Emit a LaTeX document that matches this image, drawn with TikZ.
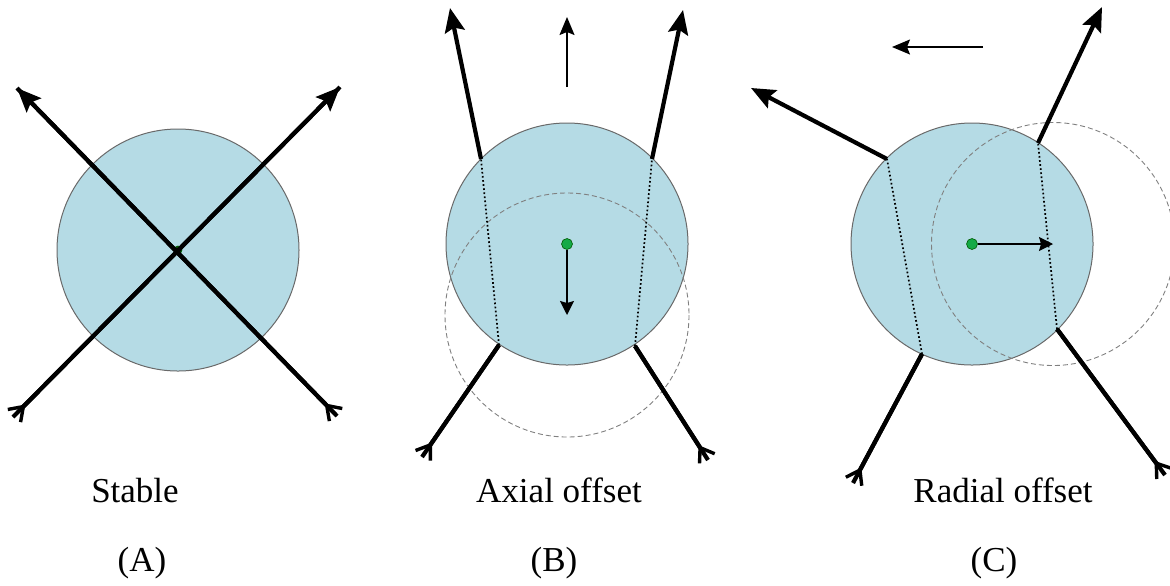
\documentclass[tikz,border=0pt]{standalone}
\usepackage{fontspec}
\setmainfont{Liberation Serif}
\usetikzlibrary{arrows.meta}

\definecolor{ballblue}{RGB}{181,219,229}
\definecolor{rimgray}{RGB}{105,105,105}
\definecolor{dotgreen}{RGB}{20,170,70}

\begin{document}
\begin{tikzpicture}[x=0.5pt,y=-0.5pt,
  fletch/.tip={Straight Barb[reversed,length=6.5pt,width=9pt,line width=1.7pt]},
  head/.tip={Stealth[length=12pt,width=10pt,inset=2pt]},
  ball/.style={draw=rimgray,fill=ballblue,line width=0.5pt},
  ghost/.style={draw=gray,line width=0.45pt,dash pattern=on 2.5pt off 1.5pt},
  ray/.style={line width=2.1pt,fletch-head,postaction={draw,arrows=-}},
  rayin/.style={line width=2.1pt,fletch-,postaction={draw,arrows=-}},
  rayout/.style={line width=2.1pt,-head},
  inside/.style={line width=0.85pt,dash pattern=on 0.85pt off 1.2pt},
  shiftarr/.style={line width=0.75pt,-{Stealth[length=7pt,width=7pt,inset=1pt]}},
  beam/.style={line width=0.75pt,-{Stealth[length=9pt,width=7.5pt,inset=1.5pt]}},
  centre/.style={circle,fill=dotgreen,draw=green!35!black,line width=0.3pt,inner sep=0pt,minimum size=5.5pt},
  caption/.style={font=\fontsize{17.5}{21}\selectfont,anchor=base}]
\useasboundingbox (0,0) rectangle (1170,585);

% (A) stable
\coordinate (cA) at (178,250);
\coordinate (aInL) at (13,417);  \coordinate (aOutR) at (340,87);
\coordinate (aInR) at (337,416); \coordinate (aOutL) at (17,88);
\draw[ball] (cA) circle (121);
\node[centre,fill=green!30!black,minimum size=4pt] (dotA) at (cA) {};
\draw[ray] (aInL)--(aOutR);
\draw[ray] (aInR)--(aOutL);

% (B) axial offset
\coordinate (cB) at (567,244); \coordinate (cBnew) at (567,315);
\coordinate (bInL) at (422,457); \coordinate (bLowL) at (499,345);
\coordinate (bUpL) at (481,159); \coordinate (bOutL) at (450,8);
\coordinate (bInR) at (708,460); \coordinate (bLowR) at (635,346);
\coordinate (bUpR) at (652,159); \coordinate (bOutR) at (683,10);
\coordinate (bBeamS) at (567,87); \coordinate (bBeamE) at (567,17);
\draw[ball] (cB) circle (121);
\draw[ghost] (cBnew) circle (122);
\draw[inside] (bLowL)--(bUpL); \draw[inside] (bLowR)--(bUpR);
\draw[rayin] (bInL)--(bLowL); \draw[rayout] (bUpL)--(bOutL);
\draw[rayin] (bInR)--(bLowR); \draw[rayout] (bUpR)--(bOutR);
\draw[beam] (bBeamS)--(bBeamE);
\node[centre] (dotB) at (cB) {};
\draw[shiftarr] (dotB)--(cBnew);

% (C) radial offset
\coordinate (cC) at (972,244); \coordinate (cCnew) at (1053,244);
\coordinate (cInL) at (853,483); \coordinate (cLowL) at (922,354);
\coordinate (cUpL) at (887,159); \coordinate (cOutL) at (751,88);
\coordinate (cInR) at (1165,475); \coordinate (cLowR) at (1057,329);
\coordinate (cUpR) at (1038,143); \coordinate (cOutR) at (1102,7);
\coordinate (cBeamS) at (983,47); \coordinate (cBeamE) at (892,47);
\draw[ball] (cC) circle (121);
\draw[ghost] (cCnew) circle (121.5);
\draw[inside] (cLowL)--(cUpL); \draw[inside] (cLowR)--(cUpR);
\draw[rayin] (cInL)--(cLowL); \draw[rayout] (cUpL)--(cOutL);
\draw[rayin] (cInR)--(cLowR); \draw[rayout] (cUpR)--(cOutR);
\draw[beam] (cBeamS)--(cBeamE);
\node[centre] (dotC) at (cC) {};
\draw[shiftarr] (dotC)--(cCnew);

% captions
\node[caption] (stable) at (135,502) {Stable};
\node[caption] (axial) at (559,502) {Axial offset};
\node[caption] (radial) at (1003,502) {Radial offset};
\node[caption] (tagA) at (142,571) {(A)};
\node[caption] (tagB) at (554,571) {(B)};
\node[caption] (tagC) at (994,571) {(C)};
\end{tikzpicture}
\end{document}
